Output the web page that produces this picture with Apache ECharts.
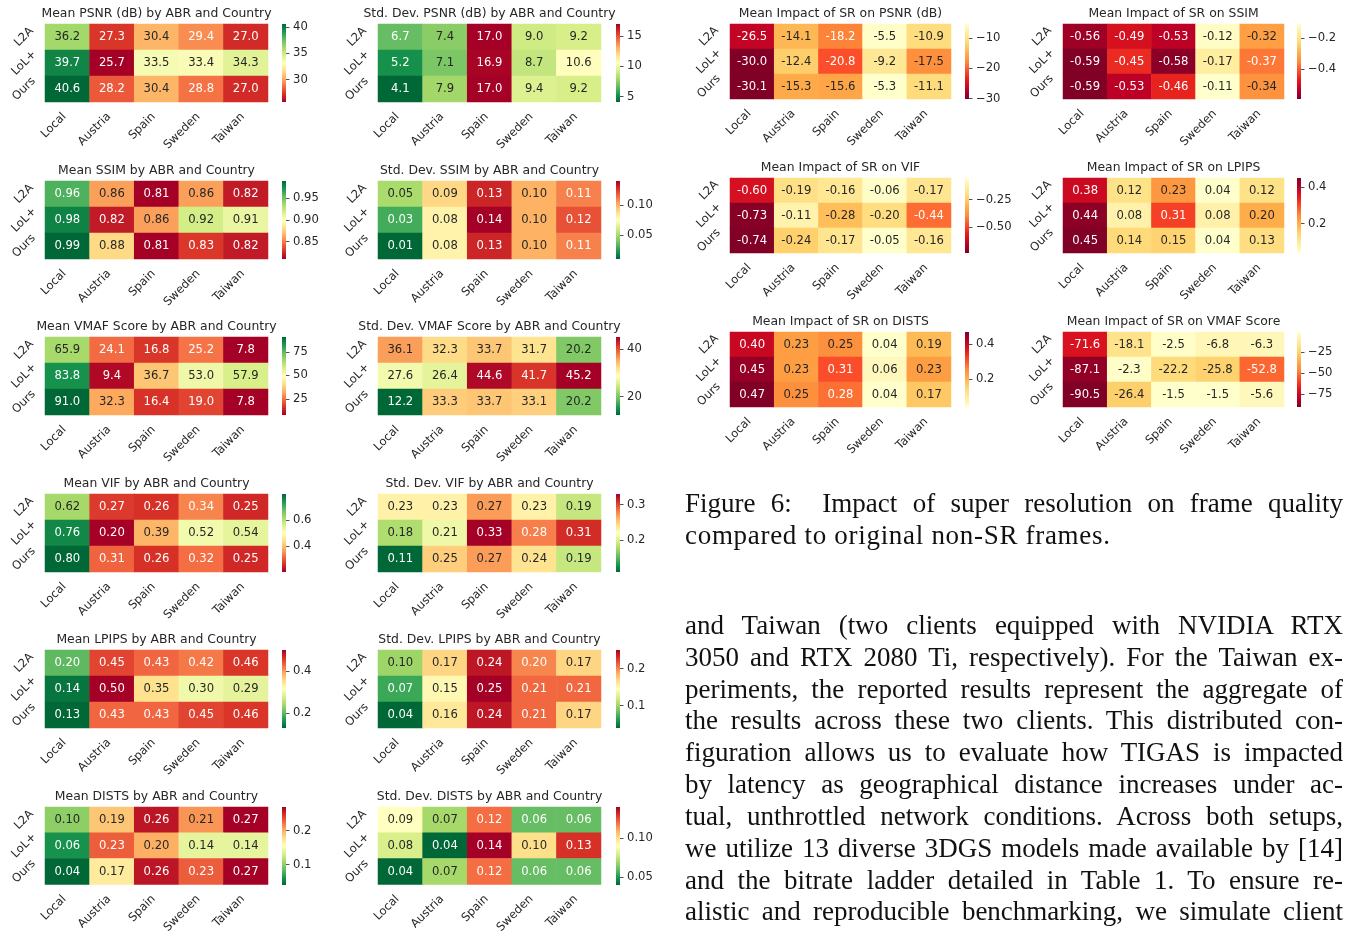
<!DOCTYPE html>
<html>
<head>
<meta charset="utf-8">
<title>Heatmaps</title>
<script src="https://cdn.jsdelivr.net/npm/echarts@6/dist/echarts.min.js"></script>
<style>
html, body { margin: 0; padding: 0; background: #fff; }
#chart { position: absolute; left: 0; top: 0; width: 1351px; height: 936px; }
.ln { position: absolute; left: 685px; width: 658px; font-family: "Liberation Serif", serif; font-size: 27px;
      line-height: 32px; color: #111; text-align: justify; text-align-last: justify; white-space: nowrap; }
.ln.last { text-align-last: left; letter-spacing: 0.7px; }
</style>
</head>
<body>
<div id="chart"></div>

<div class="ln" style="top:487px">Figure 6: &nbsp;Impact of super resolution on frame quality</div>
<div class="ln last" style="top:519px">compared to original non-SR frames.</div>

<div class="ln" style="top:609px">and Taiwan (two clients equipped with NVIDIA RTX</div>
<div class="ln" style="top:641px">3050 and RTX 2080 Ti, respectively). For the Taiwan ex-</div>
<div class="ln" style="top:673px">periments, the reported results represent the aggregate of</div>
<div class="ln" style="top:704px">the results across these two clients. This distributed con-</div>
<div class="ln" style="top:736px">figuration allows us to evaluate how TIGAS is impacted</div>
<div class="ln" style="top:768px">by latency as geographical distance increases under ac-</div>
<div class="ln" style="top:800px">tual, unthrottled network conditions. Across both setups,</div>
<div class="ln" style="top:832px">we utilize 13 diverse 3DGS models made available by [14]</div>
<div class="ln" style="top:864px">and the bitrate ladder detailed in Table 1. To ensure re-</div>
<div class="ln" style="top:895px">alistic and reproducible benchmarking, we simulate client</div>

<script>
var countries = ['Local', 'Austria', 'Spain', 'Sweden', 'Taiwan'];
var abrs = ['L2A', 'LoL+', 'Ours'];

// rows: L2A, LoL+, Ours
var meanPsnr = [[36.2, 27.3, 30.4, 29.4, 27.0], [39.7, 25.7, 33.5, 33.4, 34.3], [40.6, 28.2, 30.4, 28.8, 27.0]];
var stdPsnr = [[6.7, 7.4, 17.0, 9.0, 9.2], [5.2, 7.1, 16.9, 8.7, 10.6], [4.1, 7.9, 17.0, 9.4, 9.2]];
var meanSsim = [[0.96, 0.86, 0.81, 0.86, 0.82], [0.98, 0.82, 0.86, 0.92, 0.91], [0.99, 0.88, 0.81, 0.83, 0.82]];
var stdSsim = [[0.05, 0.09, 0.13, 0.10, 0.11], [0.03, 0.08, 0.14, 0.10, 0.12], [0.01, 0.08, 0.13, 0.10, 0.11]];
var meanVmaf = [[65.9, 24.1, 16.8, 25.2, 7.8], [83.8, 9.4, 36.7, 53.0, 57.9], [91.0, 32.3, 16.4, 19.0, 7.8]];
var stdVmaf = [[36.1, 32.3, 33.7, 31.7, 20.2], [27.6, 26.4, 44.6, 41.7, 45.2], [12.2, 33.3, 33.7, 33.1, 20.2]];
var meanVif = [[0.62, 0.27, 0.26, 0.34, 0.25], [0.76, 0.20, 0.39, 0.52, 0.54], [0.80, 0.31, 0.26, 0.32, 0.25]];
var stdVif = [[0.23, 0.23, 0.27, 0.23, 0.19], [0.18, 0.21, 0.33, 0.28, 0.31], [0.11, 0.25, 0.27, 0.24, 0.19]];
var meanLpips = [[0.20, 0.45, 0.43, 0.42, 0.46], [0.14, 0.50, 0.35, 0.30, 0.29], [0.13, 0.43, 0.43, 0.45, 0.46]];
var stdLpips = [[0.10, 0.17, 0.24, 0.20, 0.17], [0.07, 0.15, 0.25, 0.21, 0.21], [0.04, 0.16, 0.24, 0.21, 0.17]];
var meanDists = [[0.10, 0.19, 0.26, 0.21, 0.27], [0.06, 0.23, 0.20, 0.14, 0.14], [0.04, 0.17, 0.26, 0.23, 0.27]];
var stdDists = [[0.09, 0.07, 0.12, 0.06, 0.06], [0.08, 0.04, 0.14, 0.10, 0.13], [0.04, 0.07, 0.12, 0.06, 0.06]];

var srPsnr = [[-26.5, -14.1, -18.2, -5.5, -10.9], [-30.0, -12.4, -20.8, -9.2, -17.5], [-30.1, -15.3, -15.6, -5.3, -11.1]];
var srSsim = [[-0.56, -0.49, -0.53, -0.12, -0.32], [-0.59, -0.45, -0.58, -0.17, -0.37], [-0.59, -0.53, -0.46, -0.11, -0.34]];
var srVif = [[-0.60, -0.19, -0.16, -0.06, -0.17], [-0.73, -0.11, -0.28, -0.20, -0.44], [-0.74, -0.24, -0.17, -0.05, -0.16]];
var srLpips = [[0.38, 0.12, 0.23, 0.04, 0.12], [0.44, 0.08, 0.31, 0.08, 0.20], [0.45, 0.14, 0.15, 0.04, 0.13]];
var srDists = [[0.40, 0.23, 0.25, 0.04, 0.19], [0.45, 0.23, 0.31, 0.06, 0.23], [0.47, 0.25, 0.28, 0.04, 0.17]];
var srVmaf = [[-71.6, -18.1, -2.5, -6.8, -6.3], [-87.1, -2.3, -22.2, -25.8, -52.8], [-90.5, -26.4, -1.5, -1.5, -5.6]];

// colorbar ticks
var meanPsnrTicks = [30, 35, 40];
var stdPsnrTicks = [5, 10, 15];
var meanSsimTicks = [0.85, 0.90, 0.95];
var stdSsimTicks = [0.05, 0.10];
var meanVmafTicks = [25, 50, 75];
var stdVmafTicks = [20, 40];
var meanVifTicks = [0.4, 0.6];
var stdVifTicks = [0.2, 0.3];
var meanLpipsTicks = [0.2, 0.4];
var stdLpipsTicks = [0.1, 0.2];
var meanDistsTicks = [0.1, 0.2];
var stdDistsTicks = [0.05, 0.10];
var srPsnrTicks = [-30, -20, -10];
var srSsimTicks = [-0.4, -0.2];
var srVifTicks = [-0.50, -0.25];
var srLpipsTicks = [0.2, 0.4];
var srDistsTicks = [0.2, 0.4];
var srVmafTicks = [-75, -50, -25];

var RdYlGn = ['#a50026', '#d73027', '#f46d43', '#fdae61', '#fee08b', '#ffffbf', '#d9ef8b', '#a6d96a', '#66bd63', '#1a9850', '#006837'];
var YlOrRd = ['#ffffcc', '#ffeda0', '#fed976', '#feb24c', '#fd8d3c', '#fc4e2a', '#e31a1c', '#bd0026', '#800026'];
var RdYlGn_r = RdYlGn.slice().reverse();
var YlOrRd_r = YlOrRd.slice().reverse();

var FONT = 'DejaVu Sans';
var INK = '#262626';

// side: 'L' = left block (6 rows), 'R' = right block (3 rows)
var panels = [
	{title: 'Mean PSNR (dB) by ABR and Country', data: meanPsnr, ticks: meanPsnrTicks, cmap: RdYlGn, dec: 1, tdec: 0, side: 'L', col: 0, row: 0},
	{title: 'Std. Dev. PSNR (dB) by ABR and Country', data: stdPsnr, ticks: stdPsnrTicks, cmap: RdYlGn_r, dec: 1, tdec: 0, side: 'L', col: 1, row: 0},
	{title: 'Mean SSIM by ABR and Country', data: meanSsim, ticks: meanSsimTicks, cmap: RdYlGn, dec: 2, tdec: 2, side: 'L', col: 0, row: 1},
	{title: 'Std. Dev. SSIM by ABR and Country', data: stdSsim, ticks: stdSsimTicks, cmap: RdYlGn_r, dec: 2, tdec: 2, side: 'L', col: 1, row: 1},
	{title: 'Mean VMAF Score by ABR and Country', data: meanVmaf, ticks: meanVmafTicks, cmap: RdYlGn, dec: 1, tdec: 0, side: 'L', col: 0, row: 2},
	{title: 'Std. Dev. VMAF Score by ABR and Country', data: stdVmaf, ticks: stdVmafTicks, cmap: RdYlGn_r, dec: 1, tdec: 0, side: 'L', col: 1, row: 2},
	{title: 'Mean VIF by ABR and Country', data: meanVif, ticks: meanVifTicks, cmap: RdYlGn, dec: 2, tdec: 1, side: 'L', col: 0, row: 3},
	{title: 'Std. Dev. VIF by ABR and Country', data: stdVif, ticks: stdVifTicks, cmap: RdYlGn_r, dec: 2, tdec: 1, side: 'L', col: 1, row: 3},
	{title: 'Mean LPIPS by ABR and Country', data: meanLpips, ticks: meanLpipsTicks, cmap: RdYlGn_r, dec: 2, tdec: 1, side: 'L', col: 0, row: 4},
	{title: 'Std. Dev. LPIPS by ABR and Country', data: stdLpips, ticks: stdLpipsTicks, cmap: RdYlGn_r, dec: 2, tdec: 1, side: 'L', col: 1, row: 4},
	{title: 'Mean DISTS by ABR and Country', data: meanDists, ticks: meanDistsTicks, cmap: RdYlGn_r, dec: 2, tdec: 1, side: 'L', col: 0, row: 5},
	{title: 'Std. Dev. DISTS by ABR and Country', data: stdDists, ticks: stdDistsTicks, cmap: RdYlGn_r, dec: 2, tdec: 2, side: 'L', col: 1, row: 5},
	{title: 'Mean Impact of SR on PSNR (dB)', data: srPsnr, ticks: srPsnrTicks, cmap: YlOrRd_r, dec: 1, tdec: 0, side: 'R', col: 0, row: 0},
	{title: 'Mean Impact of SR on SSIM', data: srSsim, ticks: srSsimTicks, cmap: YlOrRd_r, dec: 2, tdec: 1, side: 'R', col: 1, row: 0},
	{title: 'Mean Impact of SR on VIF', data: srVif, ticks: srVifTicks, cmap: YlOrRd_r, dec: 2, tdec: 2, side: 'R', col: 0, row: 1},
	{title: 'Mean Impact of SR on LPIPS', data: srLpips, ticks: srLpipsTicks, cmap: YlOrRd, dec: 2, tdec: 1, side: 'R', col: 1, row: 1},
	{title: 'Mean Impact of SR on DISTS', data: srDists, ticks: srDistsTicks, cmap: YlOrRd, dec: 2, tdec: 1, side: 'R', col: 0, row: 2},
	{title: 'Mean Impact of SR on VMAF Score', data: srVmaf, ticks: srVmafTicks, cmap: YlOrRd_r, dec: 1, tdec: 0, side: 'R', col: 1, row: 2}
];

var layout = {
	L: {x: [45, 378], cb: [282, 616], w: 223, h: 78, y: [24, 181, 337, 494, 650, 807]},
	R: {x: [730, 1063], cb: [965, 1297], w: 221, h: 75, y: [24, 178, 332]}
};

function hexRgb(h) {
	return [parseInt(h.substr(1, 2), 16), parseInt(h.substr(3, 2), 16), parseInt(h.substr(5, 2), 16)];
}
function cmapAt(colors, t) {
	t = Math.max(0, Math.min(1, t));
	var p = t * (colors.length - 1);
	var i = Math.min(Math.floor(p), colors.length - 2);
	var f = p - i;
	var a = hexRgb(colors[i]), b = hexRgb(colors[i + 1]);
	return [0, 1, 2].map(function (k) { return a[k] + (b[k] - a[k]) * f; });
}
// same rule seaborn uses to pick annotation colour
function labelColor(rgb) {
	var c = rgb.map(function (v) {
		v = v / 255;
		return v <= 0.03928 ? v / 12.92 : Math.pow((v + 0.055) / 1.055, 2.4);
	});
	var l = 0.2126 * c[0] + 0.7152 * c[1] + 0.0722 * c[2];
	return l > 0.408 ? INK : '#ffffff';
}
function fmtTick(v, d) {
	return v.toFixed(d).replace('-', '\u2212');
}

var option = {
	animation: false,
	backgroundColor: '#ffffff',
	grid: [], xAxis: [], yAxis: [], series: [], visualMap: [], graphic: []
};

panels.forEach(function (p, i) {
	var L = layout[p.side];
	var gx = L.x[p.col], gy = L.y[p.row];
	var flat = [].concat.apply([], p.data);
	var vmin = Math.min.apply(null, flat), vmax = Math.max.apply(null, flat);
	var g = 2 * i;

	option.grid.push({left: gx, top: gy, width: L.w, height: L.h});
	option.grid.push({left: L.cb[p.col], top: gy, width: 4, height: L.h});

	option.xAxis.push({
		type: 'category', gridIndex: g, data: countries,
		axisLine: {show: false}, axisTick: {show: false}, splitLine: {show: false},
		axisLabel: {rotate: 45, interval: 0, margin: 10, padding: [0, 4, 0, 0],
			fontSize: 11.6, fontFamily: FONT, color: INK}
	});
	option.yAxis.push({
		type: 'category', gridIndex: g, data: abrs, inverse: true,
		axisLine: {show: false}, axisTick: {show: false}, splitLine: {show: false},
		axisLabel: {rotate: 45, interval: 0, align: 'center', verticalAlign: 'middle', margin: 21,
			fontSize: 11.6, fontFamily: FONT, color: INK}
	});
	option.xAxis.push({type: 'category', gridIndex: g + 1, data: ['cb'], show: false});
	option.yAxis.push({
		type: 'value', gridIndex: g + 1, min: vmin, max: vmax, position: 'right',
		axisLine: {show: false}, splitLine: {show: false},
		axisTick: {show: true, length: 3.5, customValues: p.ticks, lineStyle: {color: INK, width: 0.8}},
		axisLabel: {customValues: p.ticks, margin: 7, fontSize: 11.6, fontFamily: FONT, color: INK,
			formatter: function (v) { return fmtTick(v, p.tdec); }}
	});

	var items = [];
	p.data.forEach(function (rowVals, r) {
		rowVals.forEach(function (v, c) {
			var rgb = cmapAt(p.cmap, (v - vmin) / (vmax - vmin));
			items.push({value: [c, r, v], label: {color: labelColor(rgb)}});
		});
	});

	option.series.push({
		type: 'heatmap', xAxisIndex: g, yAxisIndex: g, data: items, silent: true,
		label: {show: true, fontSize: 11.6, fontFamily: FONT,
			formatter: function (it) { return it.value[2].toFixed(p.dec); }},
		emphasis: {disabled: true}
	});
	option.visualMap.push({
		type: 'continuous', show: false, seriesIndex: g, dimension: 2,
		min: vmin, max: vmax, inRange: {color: p.cmap}
	});

	var stops = p.cmap.map(function (c, k) { return {offset: k / (p.cmap.length - 1), color: c}; });
	option.series.push({
		type: 'custom', xAxisIndex: g + 1, yAxisIndex: g + 1, silent: true,
		data: [[0, vmin, vmax]],
		encode: {x: 0, y: [1, 2]},
		renderItem: function (params, api) {
			var lo = api.coord([0, api.value(1)]);
			var hi = api.coord([0, api.value(2)]);
			var w = api.size([1, 0])[0];
			return {
				type: 'rect',
				shape: {x: lo[0] - w / 2, y: hi[1], width: w, height: lo[1] - hi[1]},
				style: {fill: new echarts.graphic.LinearGradient(0, 1, 0, 0, stops)}
			};
		}
	});

	option.graphic.push({
		type: 'text', x: gx + L.w / 2, y: gy - 10, silent: true,
		style: {text: p.title, fill: INK, fontSize: 12.4, fontFamily: FONT, align: 'center', verticalAlign: 'middle'}
	});
});

var chart = echarts.init(document.getElementById('chart'));
chart.setOption(option);
</script>
</body>
</html>
